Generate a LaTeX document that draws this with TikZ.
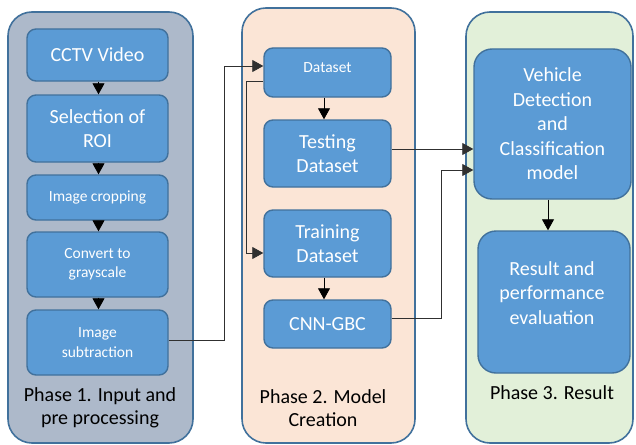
\documentclass[tikz,border=0pt]{standalone}
\usepackage{fontspec}
\setmainfont{Carlito}
\usetikzlibrary{arrows.meta}
\definecolor{boxfill}{HTML}{5B9BD5}
\definecolor{boxline}{HTML}{41719C}
\definecolor{pone}{HTML}{ADB9CA}
\definecolor{ptwo}{HTML}{FBE5D6}
\definecolor{pthree}{HTML}{E2F0D9}
\definecolor{connc}{HTML}{303030}
\tikzset{
  panel/.style={draw=boxline, line width=1.6pt, rounded corners=24pt},
  box/.style={draw=boxline, fill=boxfill, line width=1.4pt, rounded corners=9pt,
    text=white, align=center, inner sep=0pt},
  big/.style={font=\fontsize{20}{24.5}\selectfont},
  small/.style={font=\fontsize{15.5}{19.5}\selectfont},
  phase/.style={font=\fontsize{20}{23.5}\selectfont, text=black, align=center},
  conn/.style={draw=connc, line width=0.8pt, -{Triangle[length=11pt,width=12pt]}},
  sarrow/.style={draw=black, line width=0.8pt, -{Triangle[length=11pt,width=12pt]}}
}
\begin{document}
\begin{tikzpicture}[x=1pt,y=-1pt]
\useasboundingbox (0,0) rectangle (636,444);
% panels
\path[panel, fill=pone] (8,12) rectangle (193,443);
\path[panel, fill=ptwo] (242,8) rectangle (415,443);
\path[panel, fill=pthree] (466,12) rectangle (633,443);
% phase 1
\node[box, big, minimum width=141pt, minimum height=52pt] (cctv) at (97.5,55) {CCTV Video};
\node[box, big, minimum width=141pt, minimum height=67pt] (roi) at (97.5,128.5) {Selection of\\ROI};
\node[box, small, minimum width=141pt, minimum height=45pt] (crop) at (97.5,197.5) {Image cropping};
\node[box, small, minimum width=141pt, minimum height=65pt] (gray) at (97.5,264.5) {Convert to\\grayscale};
\node[box, small, minimum width=141pt, minimum height=65pt] (sub) at (97.5,342.5) {Image\\subtraction};
\node[phase] (ph1) at (100,408) {Phase 1. Input and\\pre processing};
% phase 2
\node[box, minimum width=127pt, minimum height=49pt] (ds) at (327.5,72.5) {};
\node[small, text=white] (dstext) at (327.5,68) {Dataset};
\node[box, big, minimum width=127pt, minimum height=67pt] (te) at (327.5,153.5) {Testing\\Dataset};
\node[box, big, minimum width=127pt, minimum height=67pt] (tr) at (327.5,243.5) {Training\\Dataset};
\node[box, big, minimum width=127pt, minimum height=48pt] (cnn) at (327.5,324) {CNN-GBC};
\node[phase] (ph2) at (323,408) {Phase 2. Model\\Creation};
% phase 3
\node[box, big, rounded corners=18pt, minimum width=157pt, minimum height=150pt] (veh) at (552.5,124) {Vehicle\\Detection\\and\\Classification\\model};
\node[box, rounded corners=18pt, minimum width=152pt, minimum height=142pt] (res) at (554,302) {};
\node[big, text=white, align=center] (restext) at (552,293) {Result and\\performance\\evaluation};
\node[phase] (ph3) at (552,393) {Phase 3. Result};
% arrows phase 1
\draw[sarrow] ([xshift=1pt]cctv.south) -- ([xshift=1pt]roi.north);
\draw[sarrow] ([xshift=1pt]roi.south) -- ([xshift=1pt]crop.north);
\draw[sarrow] ([xshift=1pt]crop.south) -- ([xshift=1pt]gray.north);
\draw[sarrow] ([xshift=1pt]gray.south) -- ([xshift=1pt]sub.north);
% phase 1 -> dataset
\coordinate (b1) at (224,66);
\draw[conn] ([yshift=2.5pt]sub.east) -| (b1) -- ([yshift=6.5pt]ds.west);
% dataset -> training
\coordinate (b2) at (246,81);
\draw[conn] ([yshift=-8.5pt]ds.west) -- (b2) |- ([yshift=-9.5pt]tr.west);
% dataset -> testing, training -> cnn
\draw[sarrow] ([xshift=-3.5pt]ds.south) -- ([xshift=-3.5pt]te.north);
\draw[sarrow] ([xshift=-3.5pt]tr.south) -- ([xshift=-3.5pt]cnn.north);
% to vehicle model
\draw[conn] ([yshift=4.5pt]te.east) -- ([yshift=4.5pt]te.east -| veh.west);
\coordinate (b3) at (441,170);
\draw[conn] ([yshift=6pt]cnn.east) -| (b3) -- ([yshift=-46pt]veh.west);
% vehicle -> result
\draw[sarrow] ([xshift=-4.5pt]veh.south) -- ([xshift=-4.5pt]veh.south |- res.north);
\end{tikzpicture}
\end{document}
